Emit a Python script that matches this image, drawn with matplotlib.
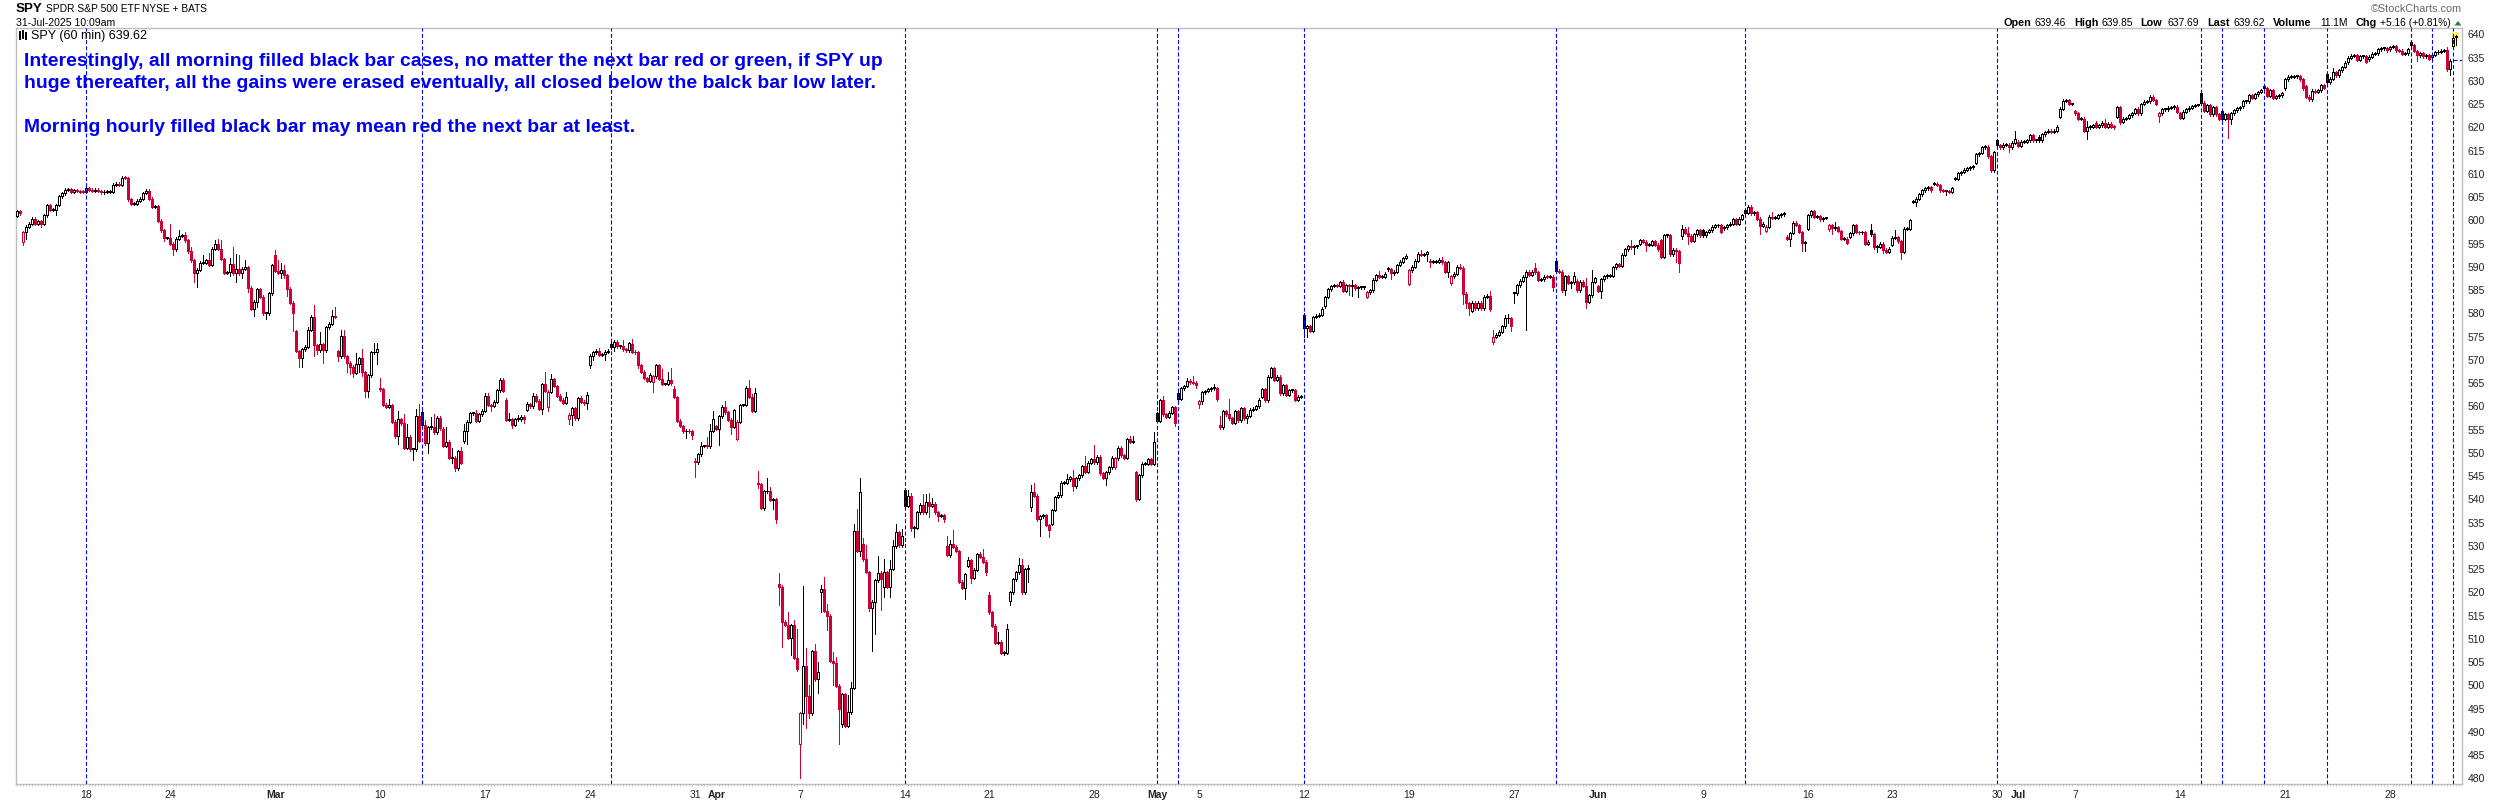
import matplotlib
matplotlib.use('Agg')
import matplotlib.pyplot as plt
from matplotlib.lines import Line2D
from matplotlib.patches import Rectangle, Polygon

plt.rcParams['font.family'] = ['Liberation Sans', 'DejaVu Sans']

# hourly closes, one row per trading day
closes = [
    602.0,601.5,
    597.5,598.6,599.3,600.4,599.3,599.8,599.3,
    601.1,603.3,602.3,602.3,603.3,605.2,605.8,
    606.6,606.7,606.2,606.5,606.3,606.2,606.1,
    606.9,606.6,606.3,606.6,606.3,606.0,606.2,
    606.2,606.2,607.7,607.9,607.7,609.2,609.1,
    604.5,603.5,603.6,604.2,604.7,605.9,606.4,
    604.7,602.9,603.1,599.9,597.9,596.2,596.2,
    595.0,593.8,596.1,596.7,596.8,595.7,593.4,
    591.4,588.6,589.4,590.9,590.9,591.4,590.4,
    593.9,595.0,593.9,591.7,588.7,588.9,590.7,
    588.6,589.6,588.6,589.6,589.9,585.5,581.0,
    582.5,585.2,583.6,580.0,580.0,584.3,590.4,
    589.1,588.7,589.3,588.2,585.3,582.3,580.1,
    571.9,570.5,572.3,572.8,576.5,579.3,573.2,
    572.1,573.4,572.1,577.0,577.8,579.4,579.3,
    570.8,575.1,570.8,569.4,568.5,567.2,569.2,
    570.4,567.4,563.3,566.7,571.6,571.6,572.3,
    563.7,560.4,559.9,560.3,556.7,553.6,557.2,
    556.4,551.1,553.5,550.8,550.8,558.0,552.6,
    555.9,552.1,555.5,555.5,554.4,557.6,555.3,
    551.5,552.4,549.0,549.0,546.7,550.4,547.9,
    554.8,556.7,558.5,558.5,556.9,558.3,559.1,
    562.3,560.3,560.1,561.0,563.5,565.7,563.3,
    557.1,557.2,556.0,557.2,557.2,557.8,557.2,
    560.5,560.0,562.3,561.2,559.5,564.8,563.3,
    563.2,565.8,564.4,562.3,561.4,560.8,562.1,
    558.2,559.6,557.4,561.7,561.0,560.7,562.5,
    570.9,571.6,572.0,571.1,571.2,571.8,572.0,
    572.7,573.9,572.9,573.0,572.3,572.1,573.6,
    571.8,571.6,568.8,567.5,566.1,565.5,566.8,
    566.5,568.9,565.9,564.8,564.8,565.7,565.0,
    562.0,556.9,555.8,554.6,554.8,554.6,553.9,
    548.0,549.7,551.5,551.5,551.4,554.7,557.3,
    555.2,557.9,559.9,558.7,557.1,555.6,559.2,
    556.7,560.3,560.3,564.0,562.1,559.1,562.8,
    543.3,538.2,541.7,541.7,539.9,540.0,535.8,
    521.2,513.7,513.0,510.2,513.0,505.9,503.5,
    494.0,504.1,497.8,494.0,507.4,501.3,502.8,
    520.8,516.0,515.0,505.3,504.9,499.9,494.9,
    498.1,491.3,494.2,499.5,533.2,528.9,541.5,
    527.1,524.4,516.7,518.0,522.6,524.2,522.8,
    524.4,521.2,525.1,529.9,532.9,530.1,532.2,
    538.6,540.7,533.9,533.9,537.2,538.9,537.2,
    539.5,538.6,539.1,537.2,536.5,536.6,535.7,
    528.1,530.5,529.8,528.9,522.3,521.0,523.9,
    526.9,523.1,524.9,528.2,527.6,526.6,524.4,
    515.7,512.8,509.2,509.4,507.0,507.0,512.2,
    520.0,522.8,524.3,525.9,520.0,525.0,525.1,
    541.6,540.8,535.7,536.4,536.6,534.5,533.4,
    537.7,540.5,540.9,543.6,543.6,544.3,544.8,
    542.8,544.5,545.2,547.2,545.9,547.9,548.6,
    548.0,549.2,545.6,544.6,545.8,546.9,549.0,
    548.8,551.1,549.5,549.0,552.9,552.4,552.4,
    540.1,545.2,547.7,547.7,548.6,547.6,552.4,
    556.9,561.3,558.3,557.8,558.6,559.8,556.5,
    561.6,563.9,564.4,565.5,565.2,565.1,564.6,
    561.1,563.0,563.3,563.7,563.9,563.9,561.6,
    555.5,559.0,558.3,557.4,556.5,559.0,557.0,
    559.6,557.4,558.0,559.3,559.5,560.0,561.4,
    563.7,561.3,566.4,568.2,565.7,566.4,562.8,
    564.5,562.5,563.5,563.5,561.4,562.1,562.1,
    576.8,577.2,576.3,579.2,579.5,579.7,581.0,
    583.5,585.2,585.9,586.0,585.9,586.7,584.9,
    586.0,585.8,586.1,585.4,585.6,585.6,585.6,
    584.5,585.0,587.2,588.2,587.8,587.9,588.5,
    589.5,588.6,589.0,590.4,591.1,591.9,592.4,
    589.3,590.0,591.3,592.8,592.6,592.7,593.1,
    591.1,591.1,591.1,591.5,591.0,589.0,591.0,
    588.0,588.5,590.0,589.8,584.2,582.2,581.1,
    582.3,581.1,582.3,581.1,583.6,583.8,580.9,
    574.9,575.4,576.1,577.2,578.9,578.9,577.2,
    584.3,586.0,587.0,587.9,589.0,588.3,589.0,
    588.8,587.2,587.3,587.9,587.8,587.9,585.6,
    589.2,589.0,585.0,588.0,586.6,586.7,588.0,
    585.0,586.8,585.9,582.5,583.9,586.8,587.5,
    584.9,587.3,588.0,588.1,588.1,589.9,590.6,
    590.2,592.6,593.8,594.5,594.2,594.4,594.4,
    595.7,595.4,594.7,594.8,595.5,594.8,593.8,
    592.1,596.8,596.8,592.7,593.7,593.4,590.9,
    598.2,597.3,596.7,595.6,597.0,597.9,596.8,
    596.8,597.5,597.9,598.6,598.9,599.0,597.5,
    598.5,599.0,599.3,600.2,599.2,600.4,601.1,
    601.6,602.9,601.5,601.7,600.4,598.8,599.3,
    598.6,600.8,600.6,600.6,601.1,601.3,601.6,
    596.0,597.3,599.5,599.0,597.5,595.2,595.2,
    601.1,602.0,600.8,600.9,600.2,600.5,600.5,
    598.9,598.3,598.5,597.7,596.0,596.1,595.2,
    597.2,599.0,597.5,597.4,597.5,595.0,595.4,
    597.0,594.2,594.3,595.0,593.7,593.2,593.9,
    596.3,596.4,595.5,593.2,598.2,598.2,600.0,
    604.0,604.7,605.6,606.5,606.9,607.1,606.5,
    607.9,607.6,606.5,606.3,606.3,606.1,606.9,
    609.0,610.1,610.4,610.9,611.2,611.4,611.7,
    614.2,614.5,615.7,615.8,613.8,610.8,614.7,
    616.2,615.7,616.3,616.3,615.7,616.7,617.6,
    616.0,616.9,616.9,617.2,618.3,617.2,617.2,
    617.2,618.5,619.0,619.3,619.1,619.3,620.1,
    624.0,625.7,625.8,625.0,625.0,
    623.0,621.9,621.9,619.3,620.0,620.1,620.5,
    620.1,620.4,621.0,620.1,620.8,620.1,620.0,
    624.3,621.2,621.9,622.0,622.6,623.1,623.9,
    623.0,625.0,625.5,625.6,626.6,625.9,625.1,
    623.0,623.9,623.9,624.2,624.3,624.4,623.3,
    622.1,623.4,623.9,624.2,624.6,624.8,624.8,
    625.3,623.6,624.8,622.8,624.3,622.8,621.9,
    621.9,622.8,621.8,623.0,623.7,624.1,624.2,
    625.6,625.6,626.9,626.4,627.1,627.6,628.0,
    628.4,626.8,628.0,626.4,626.7,626.9,627.3,
    630.3,630.9,630.9,631.0,631.0,630.3,628.4,
    626.6,626.0,627.9,627.7,628.0,629.1,628.5,
    629.7,630.5,631.9,631.2,632.3,633.0,633.9,
    635.0,635.4,635.5,634.5,635.3,635.3,634.1,
    635.2,635.8,635.9,636.8,637.0,637.0,636.6,
    637.3,637.5,636.6,636.5,635.8,635.9,636.8,
    637.7,636.4,635.5,635.9,635.3,635.5,634.8,
    635.6,636.1,636.3,636.5,636.6,632.5,634.3,
    639.3,639.62,
]

# opens that differ from the previous close (mostly the morning bars)
open_bars = [0,2,86,93,107,121,135,142,149,163,170,177,184,191,198,205,212,219,226,233,240,247,254,261,268,275,
             282,289,296,303,310,317,324,331,338,345,352,366,373,380,387,394,401,415,429,436,450,457,464,471,478,
             485,492,499,506,513,520,527,534,541,548,555,562,569,576,583,590,597,604,611,618,625,632,639,646,653,
             660,667,674,681,686,693,700,707,714,721,728,735,742,749,756,763,770,777,784,791,798,805,812,813]
open_values = [601.0,595.4,592.5,576.2,571.9,564.0,558.7,555.2,552.6,561.4,559.2,559.8,557.3,568.8,573.4,573.4,565.3,
               563.7,548.0,555.7,553.0,543.3,521.9,487.5,520.0,491.7,530.4,521.2,542.1,537.2,529.9,525.7,519.4,518.2,
               538.4,534.8,544.7,546.9,545.9,558.5,562.8,560.6,556.1,562.0,579.7,581.5,583.6,589.7,586.3,591.3,586.5,
               580.6,573.8,584.3,589.7,591.3,587.0,585.9,590.6,595.0,595.8,596.6,597.9,598.3,602.2,597.7,596.5,598.2,
               598.1,596.5,598.0,594.7,604.0,607.9,609.0,612.4,617.2,616.9,618.0,622.3,623.5,621.0,622.3,624.0,622.5,
               623.0,627.3,623.5,624.5,629.0,628.4,628.8,631.5,634.0,634.6,636.8,638.4,635.2,637.4,639.46]

# wicks long enough to read, as (bar, price)
high_marks = [
    (11,603.6),(51,599.3),(54,598.0),(56,597.5),(58,594.3),(62,592.5),(64,592.9),(66,595.7),(67,595.9),(68,595.7),
    (71,591.8),(72,594.3),(73,592.7),(74,592.5),(76,591.4),(86,593.6),(87,591.4),(88,590.9),(89,590.4),(97,577.1),
    (99,581.8),(101,575.9),(105,580.7),(106,581.3),(108,576.4),(109,576.5),(113,571.4),(115,572.4),(119,573.7),
    (120,573.7),(121,566.0),(124,561.5),(127,559.0),(129,558.4),(130,556.3),(133,559.4),(134,560.5),(136,557.1),
    (138,557.7),(139,558.4),(143,555.5),(145,551.0),(148,551.2),(149,556.2),(153,559.2),(156,562.8),(157,562.8),
    (164,558.5),(167,558.2),(170,560.9),(172,562.8),(176,567.5),(178,566.9),(183,563.0),(188,562.3),(190,563.0),
    (194,572.5),(198,574.3),(202,574.3),(205,574.5),(215,568.0),(217,567.5),(218,568.2),(219,564.4),(226,548.8),
    (228,552.4),(230,553.5),(231,556.2),(232,559.1),(236,561.2),(244,565.7),(245,562.7),(246,563.9),(247,546.2),
    (250,544.5),(251,542.7),(254,524.2),(257,515.8),(259,514.0),(260,512.2),(262,521.4),(263,508.0),(264,500.0),
    (266,508.9),(267,505.0),(268,521.6),(269,523.4),(270,517.5),(272,507.2),(273,506.2),(274,500.4),(277,497.9),
    (278,500.8),(279,534.7),(280,538.0),(281,544.6),(282,531.6),(283,530.2),(287,527.9),(289,527.1),(291,527.0),
    (292,531.2),(293,534.7),(295,533.7),(297,542.0),(298,541.3),(302,541.1),(303,541.1),(304,541.3),(305,540.2),
    (310,532.1),(311,531.2),(312,533.4),(317,527.6),(321,528.7),(322,529.4),(324,520.0),(327,511.4),(330,513.1),
    (334,527.5),(335,527.1),(337,525.9),(338,543.2),(339,543.6),(347,541.6),(350,545.4),(352,546.3),(356,549.3),
    (359,551.7),(371,553.6),(372,553.6),(379,554.5),(382,562.2),(390,566.2),(392,566.5),(399,564.8),(401,557.9),
    (404,561.5),(442,587.2),(445,587.2),(454,589.2),(463,592.6),(468,593.6),(475,592.2),(481,590.6),(491,584.8),
    (492,576.4),(496,579.7),(497,579.9),(506,590.8),(519,588.8),(523,587.6),(525,589.3),(538,595.7),(555,599.0),
    (556,598.4),(557,598.6),(585,601.7),(592,599.9),(598,602.3),(606,599.7),(618,599.3),(626,598.0),(666,619.2),
    (690,621.4),(696,621.9),(737,623.1),(772,632.7),(810,637.2),(812,639.85),(813,639.85),
]
low_marks = [
    (2,594.7),(3,595.9),(8,598.6),(13,601.1),(49,595.6),(52,592.5),(57,592.9),(59,586.8),(60,585.7),(71,588.0),
    (73,586.8),(75,587.7),(77,584.6),(79,579.4),(80,581.4),(83,578.8),(88,587.5),(89,587.5),(90,583.7),(92,576.2),
    (94,568.5),(95,568.5),(99,570.9),(100,571.3),(102,569.4),(107,569.8),(110,567.4),(111,567.0),(112,566.4),
    (114,567.3),(115,566.6),(116,562.0),(117,562.0),(120,569.2),(127,552.0),(132,548.5),(137,550.0),(145,547.9),
    (146,546.2),(149,552.2),(150,551.9),(158,559.1),(165,555.4),(169,556.4),(175,558.4),(177,559.0),(184,556.2),
    (185,556.0),(190,559.5),(191,568.3),(192,570.0),(196,570.0),(199,572.0),(207,568.2),(212,563.0),(218,564.6),
    (223,553.3),(225,553.0),(226,544.9),(234,551.7),(238,554.0),(247,542.4),(249,537.7),(252,538.0),(253,535.0),
    (254,517.3),(255,508.3),(258,506.5),(260,503.0),(261,480.1),(262,491.7),(263,490.9),(264,492.9),(267,498.4),
    (268,515.8),(270,512.0),(272,500.0),(274,487.4),(275,491.0),(276,491.3),(277,493.1),(278,495.8),(281,527.9),
    (284,516.0),(285,507.4),(286,511.0),(288,516.2),(289,519.0),(291,519.0),(292,526.9),(298,533.2),(299,532.0),
    (304,536.2),(307,535.4),(309,535.2),(311,527.6),(316,518.5),(318,522.0),(323,523.7),(328,506.7),(329,506.5),
    (331,517.3),(337,522.3),(338,537.5),(341,532.2),(344,532.0),(352,541.8),(363,543.2),(373,539.7),(386,555.7),
    (393,564.0),(394,559.7),(395,560.6),(400,561.2),(402,555.2),(405,556.3),(410,556.5),(429,575.0),(430,575.0),
    (444,584.0),(445,583.8),(447,583.6),(450,583.2),(458,587.3),(470,591.3),(471,590.0),(477,587.8),(482,582.0),
    (483,581.1),(484,579.7),(485,580.6),(491,580.6),(497,578.0),(498,576.2),(499,582.3),(503,576.5),(512,584.9),
    (516,584.0),(518,585.4),(523,581.2),(524,582.2),(528,583.2),(539,592.8),(543,593.4),(554,588.9),(553,591.0),
    (555,596.1),(557,595.0),(581,597.0),(591,594.4),(595,593.4),(596,593.4),(605,597.0),(616,594.7),(619,593.9),
    (620,593.1),(622,593.0),(628,591.6),(629,592.9),(633,603.0),(643,605.4),(658,610.4),(664,614.7),(689,619.0),
    (690,617.6),(701,620.7),(714,621.2),(737,617.8),(738,620.7),(783,633.9),(800,634.3),(811,631.2),(812,637.0),
    (813,637.69),
]

# morning bars marked with a dashed line
signal_bars = [23,135,198,296,380,387,429,513,576,660,728,735,749,770,798,805,812]
prev_close = 634.46

y_ticks = list(range(480, 645, 5))
date_ticks = [23,51,121,156,191,226,261,296,324,359,394,429,464,499,562,597,625,660,686,721,756,791]
date_labels = ['18','24','10','17','24','31','7','14','21','28','5','12','19','27','9','16','23','30','7','14','21','28']
month_ticks = [86,233,380,527,667]
month_labels = ['Mar','Apr','May','Jun','Jul']

RED = '#cf0034'
BLUE = '#0000ff'
GRAY = '#bdbdbd'

def px(x, y):
    return x / 2500, 1 - y / 800

# opens, highs and lows from the lists above
opens = [closes[0]] + closes[:-1]
for b, v in zip(open_bars, open_values):
    opens[b] = v
highs = [max(o, c) + 0.3 for o, c in zip(opens, closes)]
lows = [min(o, c) - 0.3 for o, c in zip(opens, closes)]
for b, v in high_marks:
    highs[b] = max(v, highs[b])
for b, v in low_marks:
    lows[b] = min(v, lows[b])

fig = plt.figure(figsize=(25, 8), dpi=100)
ax = fig.add_axes([16 / 2500, 1 - 784 / 800, (2462 - 16) / 2500, (784 - 28.3) / 800])
ax.set_xlim(-0.43, 814.9)
ax.set_ylim(478.8, 641.3)

# yellow box behind the live bars
ax.add_patch(Rectangle((811.2, 637.0), 1.6, 3.4, color='#ffff80', lw=0, zorder=1))
ax.add_patch(Rectangle((812.8, 638.6), 1.6, 1.8, color='#ffff80', lw=0, zorder=1))

for i, (o, h, l, c) in enumerate(zip(opens, highs, lows, closes)):
    prev = closes[i - 1] if i else c
    color = 'black' if c >= prev else RED
    ax.vlines(i, l, h, color=color, lw=0.7, antialiased=False, zorder=2)
    bottom = min(o, c)
    height = max(abs(c - o), 0.2)
    face = color if c < o else 'white'
    ax.bar(i, height, 0.66, bottom, facecolor=face, edgecolor=color, lw=0.7, antialiased=False, zorder=3)

for b in signal_bars:
    ax.axvline(b, color=BLUE, lw=0.8, ls=(0, (3.6, 2.0)), zorder=4)
ax.hlines(prev_close, 812, 814.9, color=BLUE, lw=0.8, ls=(0, (3.6, 2.0)), zorder=4)

for s in ax.spines.values():
    s.set_color(GRAY)
    s.set_linewidth(1.0)

ax.yaxis.tick_right()
ax.set_yticks(y_ticks)
ax.set_yticklabels([str(t) for t in y_ticks], fontsize=7.5, color='#222222')
ax.tick_params(axis='y', length=0, pad=4)

ax.set_xticks(date_ticks + month_ticks)
ax.set_xticklabels(date_labels + month_labels, fontsize=7.5, color='#222222')
for lab in ax.get_xticklabels()[len(date_ticks):]:
    lab.set_fontweight('bold')
ax.tick_params(axis='x', length=0, pad=4)
ax.set_xticks(range(0, 815), minor=True)
ax.tick_params(axis='x', which='minor', length=1.5, width=0.6, color=GRAY)

# header text
x, y = px(16, 9.5)
fig.text(x, y, 'SPY', fontsize=9.6, fontweight='bold', va='center')
x, y = px(46, 9.5)
fig.text(x, y, 'SPDR S&P 500 ETF', fontsize=7.4, va='center')
x, y = px(142.5, 9.5)
fig.text(x, y, 'NYSE + BATS', fontsize=7.3, va='center')
x, y = px(16, 22.5)
fig.text(x, y, '31-Jul-2025 10:09am', fontsize=7.6, va='center')
x, y = px(31, 35.7)
fig.text(x, y, 'SPY (60 min) 639.62', fontsize=9, va='center')
for lx, ly0, ly1 in [(20, 32, 39), (23, 31, 38), (26, 33, 39)]:
    fig.add_artist(Line2D([lx / 2500, lx / 2500], [1 - ly0 / 800, 1 - ly1 / 800], color='black', lw=1.4))

x, y = px(2462, 9.5)
fig.text(x, y, '\u00a9StockCharts.com', fontsize=7.8, color='#666666', ha='right', va='center')

stat_labels = [('Open', 2003.7), ('High', 2074.5), ('Low', 2140.7), ('Last', 2207), ('Volume', 2273), ('Chg', 2355)]
stat_values = [('639.46', 2035), ('639.85', 2101.7), ('637.69', 2167), ('639.62', 2233.7), ('11.1M', 2320),
               ('+5.16 (+0.81%)', 2379.5)]
for label, lx in stat_labels:
    x, y = px(lx, 22.5)
    fig.text(x, y, label, fontsize=7.8, fontweight='bold', va='center')
for label, lx in stat_values:
    x, y = px(lx, 22.5)
    fig.text(x, y, label, fontsize=7.4, va='center')
fig.add_artist(Polygon([px(2454.5, 25.5), px(2461.5, 25.5), px(2458, 21)], closed=True, color='#2e7d32', lw=0))

# the note on the chart
note_lines = [
    ('Interestingly, all morning filled black bar cases, no matter the next bar red or green, if SPY up', 62),
    ('huge thereafter, all the gains were erased eventually, all closed below the balck bar low later.', 83.5),
    ('Morning hourly filled black bar may mean red the next bar at least.', 127.5),
]
for line, ly in note_lines:
    x, y = px(24, ly)
    fig.text(x, y, line, fontsize=13.95, fontweight='bold', color='#0000ee', va='center', zorder=10)

fig.savefig('out.png', dpi=100)
